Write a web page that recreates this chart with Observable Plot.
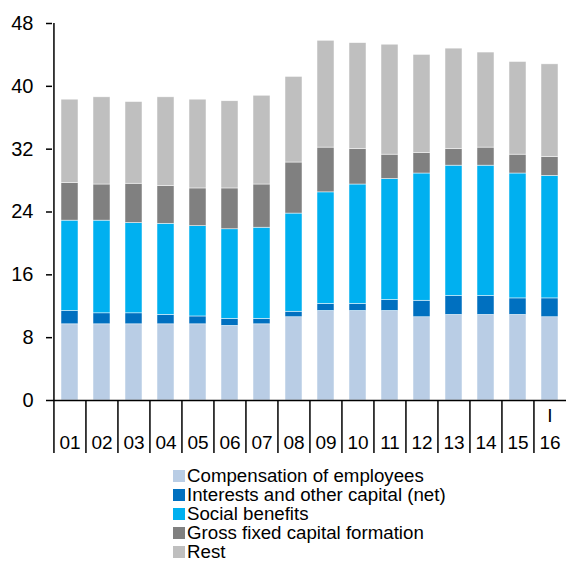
<!DOCTYPE html>
<html>
<head>
<meta charset="utf-8">
<script src="https://cdn.jsdelivr.net/npm/d3@7"></script>
<script src="https://cdn.jsdelivr.net/npm/@observablehq/plot@0.6"></script>
<style>
  html, body { margin: 0; padding: 0; background: #fff; }
  #chart { width: 566px; }
  .legend { margin-top: 6px; padding-left: 173px; font-family: "Liberation Sans", Arial, sans-serif; font-size: 18.7px; color: #000; }
  .legend .row { display: flex; align-items: center; height: 19px; line-height: 19px; }
  .legend .sw { width: 12px; height: 12px; margin-right: 2px; flex: none; }
</style>
</head>
<body>
<div id="chart"></div>
<script>
const years = ["01","02","03","04","05","06","07","08","09","10","11","12","13","14","15","16"];
const xLabels = ["01","02","03","04","05","06","07","08","09","10","11","12","13","14","15","I\n16"];
const seriesNames = ["Compensation of employees","Interests and other capital (net)","Social benefits","Gross fixed capital formation","Rest"];
const seriesColors = ["#B9CDE5","#0070C0","#00B0F0","#808080","#BFBFBF"];
const compensation = [9.7,9.7,9.7,9.7,9.7,9.5,9.7,10.6,11.4,11.4,11.4,10.6,10.9,10.9,10.9,10.6];
const interests    = [1.7,1.4,1.4,1.2,1.0,0.9,0.7,0.7,0.9,0.9,1.4,2.1,2.4,2.4,2.1,2.4];
const social       = [11.5,11.8,11.5,11.6,11.5,11.4,11.6,12.5,14.2,15.2,15.4,16.2,16.6,16.6,15.9,15.6];
const gfcf         = [4.8,4.6,5.0,4.8,4.8,5.2,5.5,6.5,5.7,4.5,3.1,2.6,2.1,2.3,2.4,2.4];
const rest         = [10.6,11.1,10.4,11.3,11.3,11.1,11.3,10.9,13.6,13.5,14.0,12.5,12.8,12.1,11.8,11.8];
const yTicks = [0,8,16,24,32,40,48];

const seriesValues = [compensation, interests, social, gfcf, rest];
const data = [];
years.forEach((yr, i) => {
  seriesNames.forEach((s, k) => data.push({year: yr, series: s, value: seriesValues[k][i]}));
});

const W = 566, H = 460, mL = 52, mR = 0, mT = 23, mB = 60;
const step = (W - mL - mR) / years.length;

const chart = Plot.plot({
  width: W, height: H,
  marginLeft: mL, marginRight: mR, marginTop: mT, marginBottom: mB,
  style: {fontFamily: "'Liberation Sans', Arial, sans-serif", color: "#000", background: "#fff"},
  x: {domain: years, paddingInner: 0.48, paddingOuter: 0.24, axis: null},
  y: {domain: [yTicks[0], yTicks[yTicks.length - 1]], axis: null},
  color: {domain: seriesNames, range: seriesColors},
  marks: [
    Plot.barY(data, {x: "year", y: "value", fill: "series", stroke: "#fff", strokeWidth: 0.6, strokeOpacity: 0.8}),
    Plot.axisY({ticks: yTicks, label: null, tickSize: 6, tickPadding: 13, fontSize: 20, strokeWidth: 1.5, stroke: "#000"}),
    Plot.ruleX([years[0]], {x: d => d, dx: -step / 2, y1: yTicks[0], y2: yTicks[yTicks.length - 1], stroke: "#000", strokeWidth: 1.5}),
    Plot.ruleY([yTicks[0]], {stroke: "#000", strokeWidth: 1.5}),
    Plot.axisX({ticks: years, label: null, tickSize: 53, dx: -step / 2, tickFormat: () => "", strokeWidth: 1.5, stroke: "#000"}),
    Plot.text(years, {x: d => d, text: (d, i) => xLabels[i], frameAnchor: "bottom", lineAnchor: "bottom", dy: 48, fontSize: 19, lineHeight: 1.42, fill: "#000"})
  ]
});
document.getElementById("chart").appendChild(chart);

const legend = document.createElement("div");
legend.className = "legend";
seriesNames.forEach((s, k) => {
  const row = document.createElement("div");
  row.className = "row";
  const sw = document.createElement("span");
  sw.className = "sw";
  sw.style.background = seriesColors[k];
  const t = document.createElement("span");
  t.textContent = s;
  row.appendChild(sw);
  row.appendChild(t);
  legend.appendChild(row);
});
document.body.appendChild(legend);
</script>
</body>
</html>
